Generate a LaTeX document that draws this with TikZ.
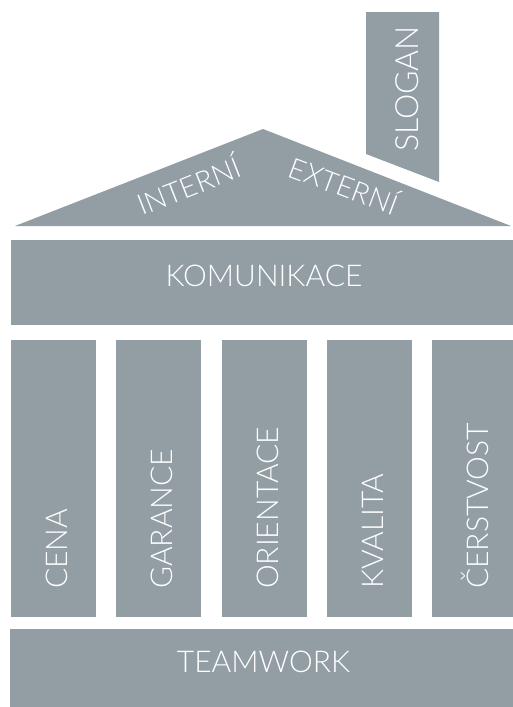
\documentclass[tikz,border=0pt]{standalone}
\usepackage{fontspec}
\setmainfont{Lato}[UprightFont=* Light]
\definecolor{pillar}{RGB}{147,158,164}
\tikzset{
  block/.style={fill=pillar, inner sep=0pt, outer sep=0pt},
  lbl/.style={text=white, inner sep=0pt, font=\fontsize{30}{30}\selectfont},
  rooflbl/.style={lbl, font=\fontsize{28.5}{28.5}\selectfont}
}
\begin{document}
\begin{tikzpicture}[x=1pt,y=-1pt]
	\useasboundingbox (0,0) rectangle (513,707);

	\fill [pillar] (366,12) -- (439,12) -- (439,182) -- (366,154) -- cycle;
	\fill [pillar] (15,226) -- (263,129) -- (511,226) -- cycle;
	\node [lbl, font=\fontsize{32}{32}\selectfont, rotate=90, anchor=base west] (slogan) at (418,152) {SLOGAN};
	\node [rooflbl, rotate=21.4, anchor=base] (interni) at (193,196) {INTERNÍ};
	\node [rooflbl, rotate=-20.5, anchor=base] (externi) at (340,196) {EXTERNÍ};

	\node [block, anchor=north west, minimum width=506pt, minimum height=85pt] (komunikace) at (11,240) {};
	\node [lbl] at ([yshift=6.5pt]komunikace.center) {KOMUNIKACE};

	\foreach \x/\id/\txt in {11/cena/CENA, 116/garance/GARANCE, 222/orientace/ORIENTACE, 327/kvalita/KVALITA, 432/cerstvost/ČERSTVOST} {
		\node [block, anchor=north west, minimum width=85pt, minimum height=277pt] (\id) at (\x,340) {};
		\node [lbl, rotate=90, anchor=base west] at ([xshift=13.5pt, yshift=28pt]\id.south) {\txt};
	}

	\node [block, anchor=north west, minimum width=507pt, minimum height=78pt] (teamwork) at (10,629) {};
	\node [lbl] at ([yshift=6.5pt]teamwork.center) {TEAMWORK};
\end{tikzpicture}
\end{document}
